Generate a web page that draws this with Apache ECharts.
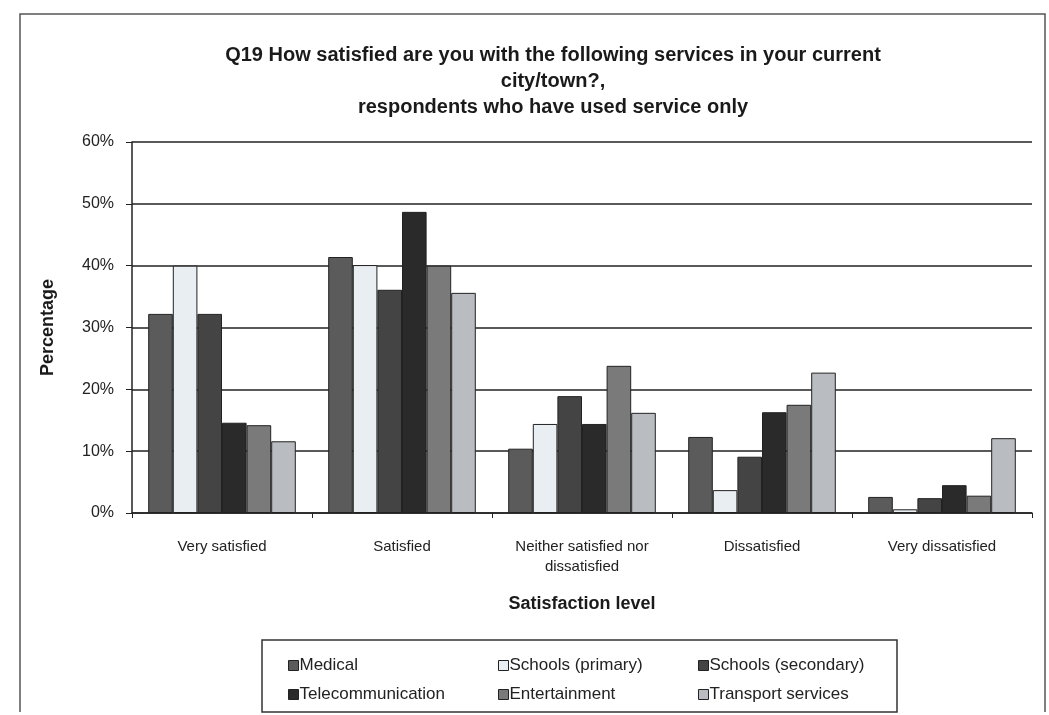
<!DOCTYPE html>
<html>
<head>
<meta charset="utf-8">
<script src="https://cdn.jsdelivr.net/npm/echarts@6/dist/echarts.min.js"></script>
<style>
  html, body { margin: 0; padding: 0; background: #ffffff; }
  #myChart { width: 1049px; height: 715px; }
</style>
</head>
<body>
<div id="myChart"></div>
<script>
    // 数据
    var categories = ['Very satisfied', 'Satisfied', 'Neither satisfied nor\ndissatisfied', 'Dissatisfied', 'Very dissatisfied'];
    var medical = [32.2, 41.4, 10.4, 12.3, 2.6];
    var schoolsPrimary = [40.0, 40.1, 14.4, 3.7, 0.6];
    var schoolsSecondary = [32.2, 36.1, 18.9, 9.1, 2.4];
    var telecommunication = [14.6, 48.7, 14.4, 16.3, 4.5];
    var entertainment = [14.2, 40.0, 23.8, 17.5, 2.8];
    var transport = [11.6, 35.6, 16.2, 22.7, 12.1];
    var yTicks = [0, 10, 20, 30, 40, 50, 60];

    var names = ['Medical', 'Schools (primary)', 'Schools (secondary)', 'Telecommunication', 'Entertainment', 'Transport services'];
    var values = [medical, schoolsPrimary, schoolsSecondary, telecommunication, entertainment, transport];
    var colors = ['#5b5b5b', '#e9eef2', '#444444', '#2a2a2a', '#7a7a7a', '#b9bdc1'];

    const font = 'Liberation Sans, Arial, sans-serif';

    var series = names.map(function (n, i) {
        return {
            name: n,
            type: 'bar',
            data: values[i],
            barGap: '0%',
            barCategoryGap: '18%',
            itemStyle: { color: colors[i], borderColor: '#222', borderWidth: 1 }
        };
    });

    function legendCol(left, items) {
        return {
            left: left,
            top: 652,
            orient: 'vertical',
            itemGap: 12,
            itemWidth: 10,
            itemHeight: 10,
            icon: 'rect',
            data: items,
            textStyle: { fontFamily: font, fontSize: 17, color: '#222', padding: [0, 0, 0, -4] },
            itemStyle: { borderColor: '#222', borderWidth: 1 }
        };
    }

    let myChart = echarts.init(document.getElementById('myChart'));
    myChart.setOption({
        animation: false,
        backgroundColor: '#ffffff',
        color: colors,
        title: {
            text: 'Q19 How satisfied are you with the following services in your current\ncity/town?,\nrespondents who have used service only',
            left: 548,
            textAlign: 'center',
            top: 37,
            textStyle: { fontFamily: font, fontSize: 20, fontWeight: 'bold', color: '#1a1a1a', lineHeight: 26 }
        },
        legend: [
            legendCol(283, ['Medical', 'Telecommunication']),
            legendCol(493, ['Schools (primary)', 'Entertainment']),
            legendCol(693, ['Schools (secondary)', 'Transport services'])
        ],
        graphic: [
            { type: 'rect', shape: { x: 262, y: 640, width: 635, height: 72 }, style: { fill: 'none', stroke: '#333', lineWidth: 1.5 } },
            { type: 'polyline', shape: { points: [[20, 712], [20, 14], [1045, 14], [1045, 712]] }, style: { fill: 'none', stroke: '#555', lineWidth: 1.5 } }
        ],
        grid: { left: 132, right: 17, top: 142, bottom: 202 },
        xAxis: {
            type: 'category',
            data: categories,
            name: 'Satisfaction level',
            nameLocation: 'middle',
            nameGap: 82,
            nameTextStyle: { fontFamily: font, fontSize: 18, fontWeight: 'bold', color: '#1a1a1a' },
            axisLine: { lineStyle: { color: '#222', width: 1.5 } },
            axisTick: { show: true, length: 5, lineStyle: { color: '#222' } },
            axisLabel: { fontFamily: font, fontSize: 15, color: '#222', margin: 24, lineHeight: 20 }
        },
        yAxis: {
            type: 'value',
            min: yTicks[0],
            max: yTicks[yTicks.length - 1],
            interval: 10,
            name: 'Percentage',
            nameLocation: 'middle',
            nameGap: 75,
            nameTextStyle: { fontFamily: font, fontSize: 18, fontWeight: 'bold', color: '#1a1a1a' },
            axisLine: { show: true, lineStyle: { color: '#222', width: 1.5 } },
            axisTick: { show: true, length: 6, lineStyle: { color: '#222' } },
            axisLabel: { fontFamily: font, fontSize: 16, color: '#222', margin: 18, formatter: '{value}%' },
            splitLine: { show: true, lineStyle: { color: '#222', width: 1.5 } }
        },
        series: series
    });
</script>
</body>
</html>
